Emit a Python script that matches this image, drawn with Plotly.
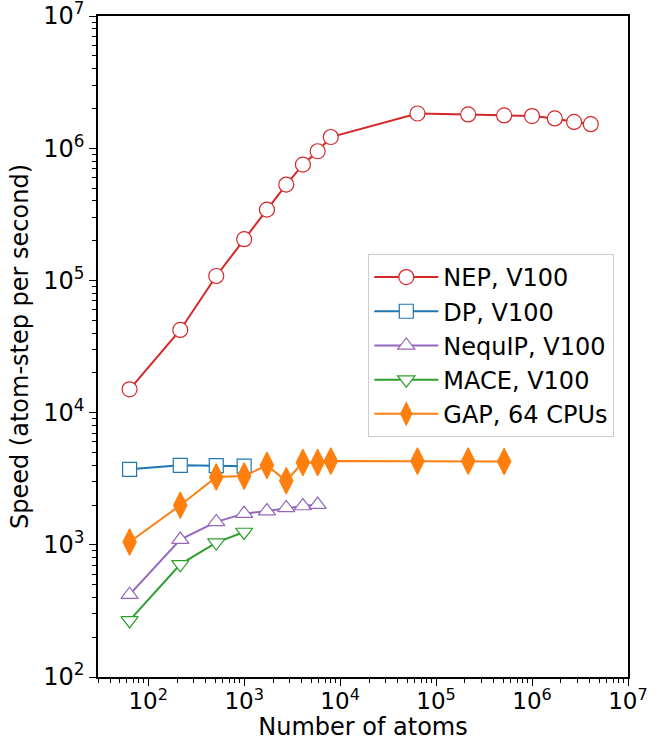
import plotly.graph_objects as go

# Benchmark: MD speed vs. system size for several ML potentials
nep_atoms = [64, 216, 512, 1000, 1728, 2744, 4096, 5832, 8000,
             64000, 216000, 512000, 1000000, 1728000, 2744000, 4096000]
nep_speed = [15000, 42200, 108000, 205000, 343000, 531000, 751000, 948000, 1215000,
             1830000, 1800000, 1770000, 1750000, 1680000, 1580000, 1520000]

dp_atoms = [64, 216, 512, 1000]
dp_speed = [3720, 3990, 3970, 3930]

nequip_atoms = [64, 216, 512, 1000, 1728, 2744, 4096, 5832]
nequip_speed = [420, 1095, 1490, 1720, 1800, 1900, 1965, 2015]

mace_atoms = [64, 216, 512, 1000]
mace_speed = [268, 712, 1040, 1250]

gap_atoms = [64, 216, 512, 1000, 1728, 2744, 4096, 5832, 8000, 64000, 216000, 512000]
gap_speed = [1050, 1990, 3260, 3310, 3990, 3050, 4190, 4190, 4300, 4300, 4300, 4270]

x_exponents = [2, 3, 4, 5, 6, 7]
y_exponents = [2, 3, 4, 5, 6, 7]

FONT = "DejaVu Sans"

series = [
    ("NEP, V100", nep_atoms, nep_speed, "#d62728", "circle", 15, False),
    ("DP, V100", dp_atoms, dp_speed, "#1f77b4", "square", 14, False),
    ("NequIP, V100", nequip_atoms, nequip_speed, "#9467bd", "triangle-up", 15, False),
    ("MACE, V100", mace_atoms, mace_speed, "#2ca02c", "triangle-down", 15, False),
    ("GAP, 64 CPUs", gap_atoms, gap_speed, "#ff7f0e", "diamond-tall", 19, True),
]

fig = go.Figure()
for name, xs, ys, color, symbol, size, filled in series:
    fig.add_trace(go.Scatter(
        x=xs, y=ys, name=name, mode="lines+markers", legendgroup=name,
        line=dict(color=color, width=2),
        marker=dict(symbol=symbol, size=size, color=color if filled else "white",
                    line=dict(color=color, width=1.2)),
    ))


def minor_vals(lo, hi):
    return [m * 10 ** e for e in range(lo, hi) for m in range(2, 10)]


def major(exps):
    return dict(tickmode="array",
                tickvals=[10 ** e for e in exps],
                ticktext=[f"10<sup>{e}</sup>" for e in exps])


axis_common = dict(
    type="log", showline=True, linecolor="black", linewidth=1.6, mirror=True,
    ticks="outside", ticklen=7, tickwidth=1.4, tickcolor="black",
    showgrid=False, zeroline=False,
    ticklabeloverflow="allow", automargin=False,
)

fig.update_xaxes(range=[1.477, 7],
                 tickfont=dict(family=FONT, size=23, color="black"),
                 ticklabelstandoff=-4,
                 title=dict(text="Number of atoms",
                            font=dict(family=FONT, size=24, color="black"), standoff=4),
                 minor=dict(tickmode="array", ticks="outside", ticklen=4, tickwidth=1,
                            tickcolor="black",
                            tickvals=[v for v in minor_vals(1, 7) if v >= 30],
                            showgrid=False),
                 **major(x_exponents), **axis_common)
fig.update_yaxes(range=[2, 7],
                 tickfont=dict(family=FONT, size=24, color="black"),
                 title=dict(text="Speed (atom-step per second)",
                            font=dict(family=FONT, size=24, color="black"), standoff=8),
                 minor=dict(tickmode="array", ticks="outside", ticklen=4, tickwidth=1,
                            tickcolor="black", tickvals=minor_vals(2, 7), showgrid=False),
                 **major(y_exponents), **axis_common)

fig.update_layout(
    width=662, height=741,
    margin=dict(l=98, r=34, t=16, b=64),
    paper_bgcolor="white", plot_bgcolor="white",
    font=dict(family=FONT, size=24, color="black"),
    showlegend=True,
    legend=dict(x=0.51, y=0.64, xanchor="left", yanchor="top",
                bgcolor="white", bordercolor="#cccccc", borderwidth=1,
                font=dict(family=FONT, size=24), tracegroupgap=0,
                itemwidth=64),
)

fig.write_html("out.html")
